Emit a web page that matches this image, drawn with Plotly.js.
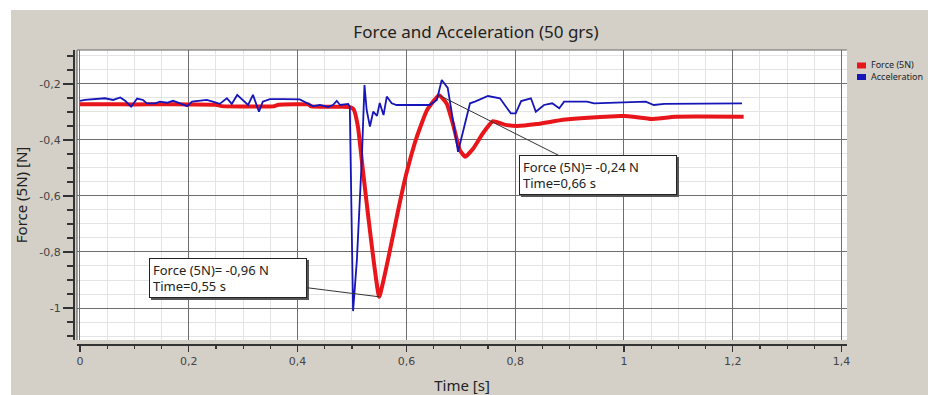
<!DOCTYPE html>
<html>
<head>
<meta charset="utf-8">
<script src="https://cdn.plot.ly/plotly-3.0.1.min.js"></script>
<style>html,body{margin:0;padding:0;background:#fff;}#chart{width:928px;height:395px;}</style>
</head>
<body>
<div id="chart"></div>
<script>
// ---- Data ----
const forceTime = [0.000,0.050,0.100,0.150,0.200,0.250,0.260,0.300,0.355,0.365,0.420,0.425,0.480,0.495,0.503,0.511,0.520,0.530,0.539,0.550,0.567,0.585,0.600,0.619,0.638,0.660,0.674,0.686,0.698,0.708,0.723,0.741,0.759,0.780,0.803,0.840,0.888,0.920,0.994,1.000,1.040,1.050,1.095,1.220];
const forceValues = [-0.272,-0.272,-0.273,-0.272,-0.273,-0.274,-0.279,-0.280,-0.280,-0.274,-0.273,-0.280,-0.281,-0.282,-0.290,-0.353,-0.507,-0.675,-0.818,-0.960,-0.820,-0.650,-0.520,-0.390,-0.293,-0.240,-0.270,-0.346,-0.435,-0.460,-0.430,-0.375,-0.333,-0.345,-0.350,-0.343,-0.328,-0.322,-0.314,-0.314,-0.322,-0.325,-0.317,-0.317];

const accelTime = [0.000,0.009,0.046,0.061,0.074,0.083,0.094,0.105,0.116,0.123,0.138,0.147,0.160,0.171,0.184,0.197,0.206,0.221,0.233,0.244,0.257,0.270,0.279,0.289,0.300,0.309,0.318,0.329,0.336,0.349,0.373,0.404,0.428,0.441,0.456,0.465,0.472,0.478,0.493,0.496,0.502,0.509,0.518,0.523,0.527,0.533,0.539,0.546,0.551,0.558,0.564,0.573,0.582,0.643,0.656,0.665,0.676,0.695,0.717,0.726,0.750,0.772,0.792,0.801,0.811,0.829,0.838,0.853,0.868,0.881,0.890,0.914,0.932,0.945,1.040,1.055,1.074,1.217];
const accelValues = [-0.260,-0.257,-0.251,-0.257,-0.248,-0.260,-0.281,-0.252,-0.257,-0.269,-0.269,-0.263,-0.267,-0.260,-0.269,-0.279,-0.263,-0.260,-0.257,-0.263,-0.271,-0.251,-0.271,-0.239,-0.257,-0.275,-0.239,-0.299,-0.263,-0.254,-0.254,-0.255,-0.279,-0.275,-0.282,-0.275,-0.260,-0.275,-0.271,-0.281,-1.011,-0.829,-0.471,-0.204,-0.293,-0.352,-0.299,-0.314,-0.268,-0.311,-0.245,-0.269,-0.275,-0.275,-0.257,-0.186,-0.214,-0.442,-0.269,-0.263,-0.243,-0.251,-0.305,-0.305,-0.261,-0.251,-0.299,-0.275,-0.269,-0.287,-0.263,-0.263,-0.263,-0.269,-0.263,-0.275,-0.271,-0.269];

const seriesNames = ['Force (5N)', 'Acceleration'];
const seriesColors = ['#e8161b', '#1515b8'];

const xTickVals = [0, 0.2, 0.4, 0.6, 0.8, 1, 1.2, 1.4];
const xTickText = ['0', '0,2', '0,4', '0,6', '0,8', '1', '1,2', '1,4'];
const yTickVals = [-0.2, -0.4, -0.6, -0.8, -1];
const yTickText = ['-0,2', '-0,4', '-0,6', '-0,8', '-1'];

const markTime = [0.55, 0.66];
const markForce = [-0.96, -0.24];
const markText = ['Force (5N)= -0,96 N<br>Time=0,55 s', 'Force (5N)= -0,24 N<br>Time=0,66 s'];

// ---- Chart ----
const traces = [
  {x: forceTime, y: forceValues, name: seriesNames[0], mode: 'lines', line: {color: seriesColors[0], width: 4, shape: 'spline', smoothing: 0.4}},
  {x: accelTime, y: accelValues, name: seriesNames[1], mode: 'lines', line: {color: seriesColors[1], width: 1.8}}
];

const boxOffsets = [[-151, -19], [159, 80]];
const annotations = [];
markTime.forEach((t, i) => {
  const common = {x: t, y: markForce[i], xref: 'x', yref: 'y', showarrow: true, arrowhead: 0,
    width: 150, height: 32, borderpad: 3, align: 'left', valign: 'middle'};
  annotations.push(Object.assign({}, common, {text: ' ', ax: boxOffsets[i][0] + 2, ay: boxOffsets[i][1] + 2,
    arrowcolor: 'rgba(0,0,0,0)', arrowwidth: 0.1, bgcolor: '#555', bordercolor: '#555', borderwidth: 1}));
  annotations.push(Object.assign({}, common, {text: markText[i], ax: boxOffsets[i][0], ay: boxOffsets[i][1],
    arrowcolor: '#333', arrowwidth: 1, bgcolor: '#ffffff', bordercolor: '#222', borderwidth: 1,
    font: {family: 'Noto Sans', size: 13, color: '#222'}}));
});

// manual legend (boxes + text), paper coords
const W = 774, H = 294, L = 73, T = 50;
const px = v => (v - L) / W;
const py = v => (T + H - v) / H;
seriesNames.forEach((n, i) => {
  annotations.push({xref: 'paper', yref: 'paper', x: px(869), y: py(64.5 + i * 11.5), xanchor: 'left', yanchor: 'middle',
    text: n, showarrow: false, font: {family: 'Noto Sans', size: 9, color: '#222'}});
});

const shapes = [];
seriesNames.forEach((n, i) => {
  shapes.push({type: 'rect', xref: 'paper', yref: 'paper', x0: px(857), x1: px(866), y0: py(68.5 + i * 11.5), y1: py(62.5 + i * 11.5),
    fillcolor: seriesColors[i], line: {width: 0}, layer: 'above'});
});
// plot frame (top / left)
shapes.push({type: 'line', xref: 'paper', yref: 'paper', x0: px(77), x1: 1, y0: 1, y1: 1, line: {color: '#666', width: 1.2}, layer: 'above'});
shapes.push({type: 'line', xref: 'paper', yref: 'paper', x0: px(77), x1: px(77), y0: py(340), y1: 1, line: {color: '#666', width: 1.2}, layer: 'above'});
// white screenshot border strips
shapes.push({type: 'rect', xref: 'paper', yref: 'paper', x0: -0.2, x1: 1.3, y0: py(10), y1: 1.3, fillcolor: '#ffffff', line: {width: 0}, layer: 'above'});
shapes.push({type: 'rect', xref: 'paper', yref: 'paper', x0: -0.2, x1: px(11), y0: -0.3, y1: 1.3, fillcolor: '#ffffff', line: {width: 0}, layer: 'above'});

const tickFont = {family: 'DejaVu Sans', size: 11, color: '#444'};
const layout = {
  width: 928, height: 395,
  paper_bgcolor: '#d4d0c8',
  plot_bgcolor: '#ffffff',
  margin: {l: L, r: 928 - L - W, t: T, b: 395 - T - H, pad: 0},
  showlegend: false,
  separators: ', ',
  title: {text: 'Force and Acceleration (50 grs)', font: {family: 'Noto Sans', size: 17, color: '#222'},
    xref: 'container', x: 476 / 928, xanchor: 'center', yref: 'container', y: 1 - 32 / 395, yanchor: 'middle'},
  xaxis: {
    domain: [px(77), 1], range: [-0.0055, 1.41], anchor: 'free', position: 0,
    showline: true, linecolor: '#333', linewidth: 1.5,
    tickmode: 'array', tickvals: xTickVals, ticktext: xTickText,
    ticks: 'outside', ticklen: 6, tickcolor: '#333', tickwidth: 1.3,
    showgrid: true, gridcolor: '#6e6e6e', gridwidth: 1, zeroline: false,
    tickfont: tickFont,
    minor: {tickmode: 'linear', tick0: 0, dtick: 0.05, ticks: 'outside', ticklen: 3, tickcolor: '#333', showgrid: true, gridcolor: '#e4e4e4', gridwidth: 1},
    title: {text: 'Time [s]', font: {family: 'Noto Sans', size: 15, color: '#222'}, standoff: 15}
  },
  yaxis: {
    domain: [py(340), 1], range: [-1.1143, -0.0786], anchor: 'free', position: 0,
    showline: true, linecolor: '#333', linewidth: 1.5,
    tickmode: 'array', tickvals: yTickVals, ticktext: yTickText,
    ticks: 'outside', ticklen: 10, tickcolor: '#333', tickwidth: 1.3,
    showgrid: true, gridcolor: '#6e6e6e', gridwidth: 1, zeroline: false,
    tickfont: tickFont,
    minor: {tickmode: 'linear', tick0: 0, dtick: 0.05, ticks: 'outside', ticklen: 6, tickcolor: '#333', showgrid: true, gridcolor: '#e4e4e4', gridwidth: 1},
    title: {text: 'Force (5N) [N]', font: {family: 'Noto Sans', size: 15, color: '#222'}, standoff: 6}
  },
  annotations: annotations,
  shapes: shapes
};

Plotly.newPlot('chart', traces, layout, {displayModeBar: false, staticPlot: true});
</script>
</body>
</html>
